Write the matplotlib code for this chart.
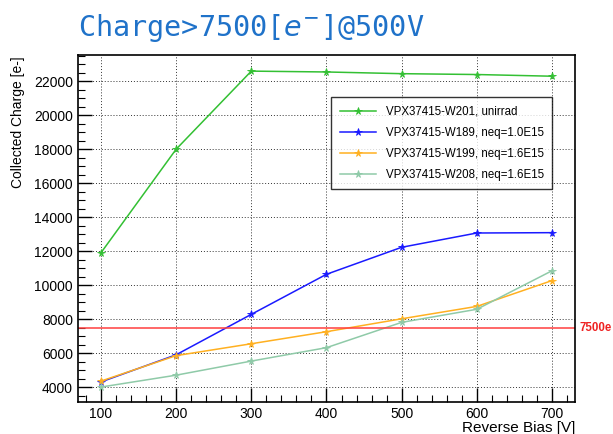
import matplotlib.pyplot as plt
from matplotlib.ticker import MultipleLocator
from matplotlib import transforms

# bias voltage scan points [V]
bias = [100, 200, 300, 400, 500, 600, 700]

# collected charge [e-] per sensor
w201 = [11900, 18000, 22600, 22550, 22450, 22400, 22300]
w189 = [4300, 5900, 8280, 10640, 12230, 13070, 13090]
w199 = [4350, 5850, 6550, 7260, 8020, 8750, 10270]
w208 = [4000, 4700, 5530, 6320, 7810, 8580, 10850]

labels = ["VPX37415-W201, unirrad",
          "VPX37415-W189, neq=1.0E15",
          "VPX37415-W199, neq=1.6E15",
          "VPX37415-W208, neq=1.6E15"]
colors = ["#33c033", "#1a1aff", "#ffb020", "#8fcaa8"]

threshold = 7500

plt.rcParams['font.family'] = ['Liberation Sans', 'DejaVu Sans']

fig = plt.figure(figsize=(6.13, 4.34), dpi=100)
ax = fig.add_axes([0.1272, 0.0737, 0.8108, 0.7996])

for y, lbl, c in zip([w201, w189, w199, w208], labels, colors):
    ax.plot(bias, y, '-', color=c, lw=1.1, marker='*', markersize=5.5,
            markeredgewidth=0.6, label=lbl)

ax.axhline(threshold, color="#ff4040", lw=1.3, alpha=0.85)
trans = transforms.blended_transform_factory(ax.transAxes, ax.transData)
ax.text(1.01, threshold, "7500e", transform=trans, color="#ee2222",
        fontsize=8.3, fontweight='bold', va='center', ha='left')

ax.set_xlim(69.5, 730.5)
ax.set_ylim(3120, 23550)
ax.xaxis.set_major_locator(MultipleLocator(100))
ax.xaxis.set_minor_locator(MultipleLocator(20))
ax.yaxis.set_major_locator(MultipleLocator(2000))
ax.yaxis.set_minor_locator(MultipleLocator(500))
ax.tick_params(which='both', direction='in', labelsize=10)
ax.tick_params(which='major', length=10, width=1.0)
ax.tick_params(which='minor', length=5, width=0.8)
ax.grid(True, which='major', linestyle=(0, (1, 2)), color='#333333', lw=0.7)
for s in ax.spines.values():
    s.set_linewidth(1.2)

ax.set_xlabel("Reverse Bias [V]", fontsize=11, ha='right')
ax.xaxis.set_label_coords(1.0, -0.055)
ax.set_ylabel("Collected Charge [e-]", fontsize=10, ha='right', va='center')
ax.yaxis.set_label_coords(-0.121, 0.995)

leg = ax.legend(loc='upper left', bbox_to_anchor=(0.509, 0.879),
                borderaxespad=0, fontsize=8.3, frameon=True, fancybox=False,
                edgecolor='black', borderpad=0.75, labelspacing=0.78,
                handlelength=3.2, handletextpad=0.8)
leg.get_frame().set_linewidth(1.0)

fig.text(0.127, 0.935, r"Charge>7500[$e^{-}$]@500V", fontsize=20.5,
         color="#1f72c9", family='DejaVu Sans Mono', va='center')

fig.savefig("out.png", dpi=100)
